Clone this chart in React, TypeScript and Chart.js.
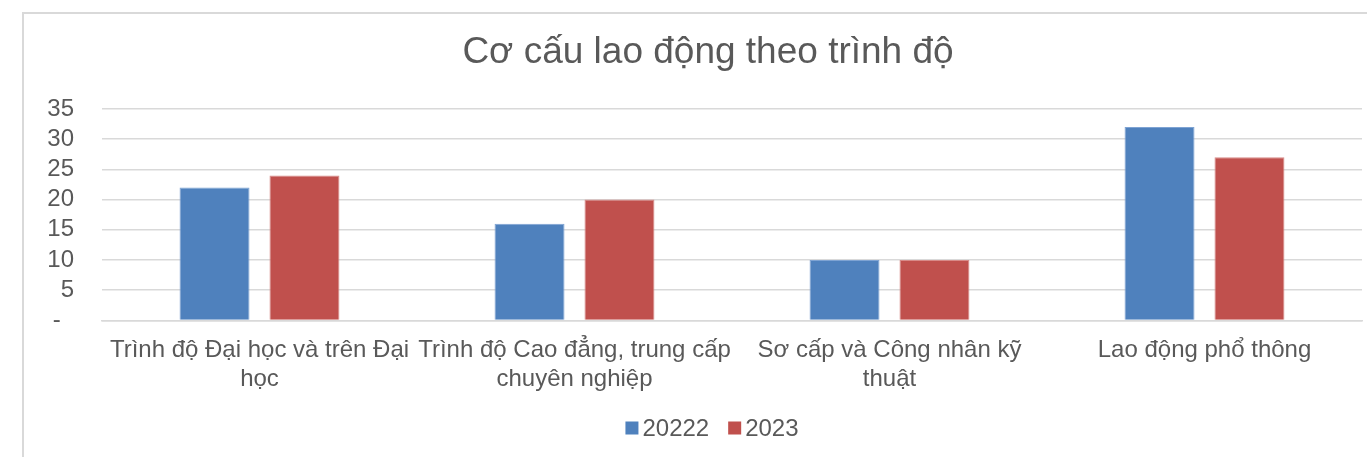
import React, { useEffect, useRef } from "react";
import { Chart, registerables } from "chart.js";

Chart.register(...registerables);

const categories: (string | string[])[] = [
  ["Trình độ Đại học và trên Đại", "học"],
  ["Trình độ Cao đẳng, trung cấp", "chuyên nghiệp"],
  ["Sơ cấp và Công nhân kỹ", "thuật"],
  "Lao động phổ thông",
];
const series2022 = [22, 16, 10, 32];
const series2023 = [24, 20, 10, 27];
const seriesLabels = ["20222", "2023"];
const seriesColors = ["#4F81BD", "#C0504D"];
const seriesBorders = ["#7EA3D3", "#D88A88"];
const yTicks = [0, 5, 10, 15, 20, 25, 30, 35];
const title = "Cơ cấu lao động theo trình độ";

const FONT = "'Liberation Sans', Arial, sans-serif";
const TEXT = "#595959";

const decorPlugin = {
  id: "decor",
  afterDraw(chart: any) {
    const ctx = chart.ctx as CanvasRenderingContext2D;
    const w = chart.width;
    ctx.save();
    // title
    ctx.fillStyle = TEXT;
    ctx.font = `37px ${FONT}`;
    ctx.textAlign = "center";
    ctx.textBaseline = "alphabetic";
    ctx.fillText(title, w / 2, 49);
    // legend
    ctx.font = `24px ${FONT}`;
    const box = 13;
    const gapText = 4;
    const gapItem = 19;
    const items = chart.data.datasets.map((d: any) => ({
      label: d.label as string,
      color: d.backgroundColor as string,
      tw: ctx.measureText(d.label).width,
    }));
    const total =
      items.reduce((s: number, it: any) => s + box + gapText + it.tw, 0) +
      gapItem * (items.length - 1);
    let x = w / 2 + 4 - total / 2;
    const cy = 414;
    ctx.textAlign = "left";
    ctx.textBaseline = "middle";
    for (const it of items) {
      ctx.fillStyle = it.color;
      ctx.fillRect(x, cy - box / 2, box, box);
      x += box + gapText;
      ctx.fillStyle = TEXT;
      ctx.fillText(it.label, x, cy + 1);
      x += it.tw + gapItem;
    }
    ctx.restore();
  },
};

export default function App() {
  const ref = useRef<HTMLCanvasElement | null>(null);
  useEffect(() => {
    if (!ref.current) return;
    const chart = new Chart(ref.current, {
      type: "bar",
      data: {
        labels: categories,
        datasets: [
          {
            label: seriesLabels[0],
            data: series2022,
            backgroundColor: seriesColors[0],
            borderColor: seriesBorders[0],
            borderWidth: 1,
            categoryPercentage: 0.571,
            barPercentage: 0.778,
          },
          {
            label: seriesLabels[1],
            data: series2023,
            backgroundColor: seriesColors[1],
            borderColor: seriesBorders[1],
            borderWidth: 1,
            categoryPercentage: 0.571,
            barPercentage: 0.778,
          },
        ],
      },
      plugins: [decorPlugin],
      options: {
        responsive: false,
        animation: false,
        layout: { padding: { left: 0, right: 30, top: 95, bottom: 49 } },
        plugins: {
          title: { display: false },
          legend: { display: false },
          tooltip: { enabled: false },
        },
        scales: {
          x: {
            grid: { display: false, drawTicks: false },
            border: { display: true, color: "#D9D9D9", width: 1.5 },
            afterFit: (s: any) => {
              s.paddingLeft = 0;
              s.paddingRight = 0;
            },
            ticks: {
              color: TEXT,
              font: { family: FONT, size: 24, lineHeight: 1.2 },
              maxRotation: 0,
              autoSkip: false,
              padding: 16,
            },
          },
          y: {
            min: 0,
            max: 35,
            afterBuildTicks: (axis: any) => {
              axis.ticks = yTicks.map((v) => ({ value: v }));
            },
            afterFit: (s: any) => {
              s.width = 78;
            },
            grid: { color: "#D9D9D9", lineWidth: 1.5, drawTicks: false },
            border: { display: false },
            ticks: {
              color: TEXT,
              font: { family: FONT, size: 24 },
              padding: 28,
              autoSkip: false,
              callback: (v: any) => (Number(v) === 0 ? "-  " : String(v)),
            },
          },
        },
      },
    });
    return () => chart.destroy();
  }, []);

  return (
    <div style={{ position: "fixed", left: 0, top: 0, width: 1367, height: 457, overflow: "hidden", background: "#fff" }}>
      <div
        style={{
          position: "absolute",
          left: 22,
          top: 12,
          width: 1372,
          height: 460,
          border: "2px solid #D9D9D9",
          boxSizing: "border-box",
        }}
      >
        <canvas ref={ref} width={1368} height={445} style={{ display: "block" }} />
      </div>
    </div>
  );
}
